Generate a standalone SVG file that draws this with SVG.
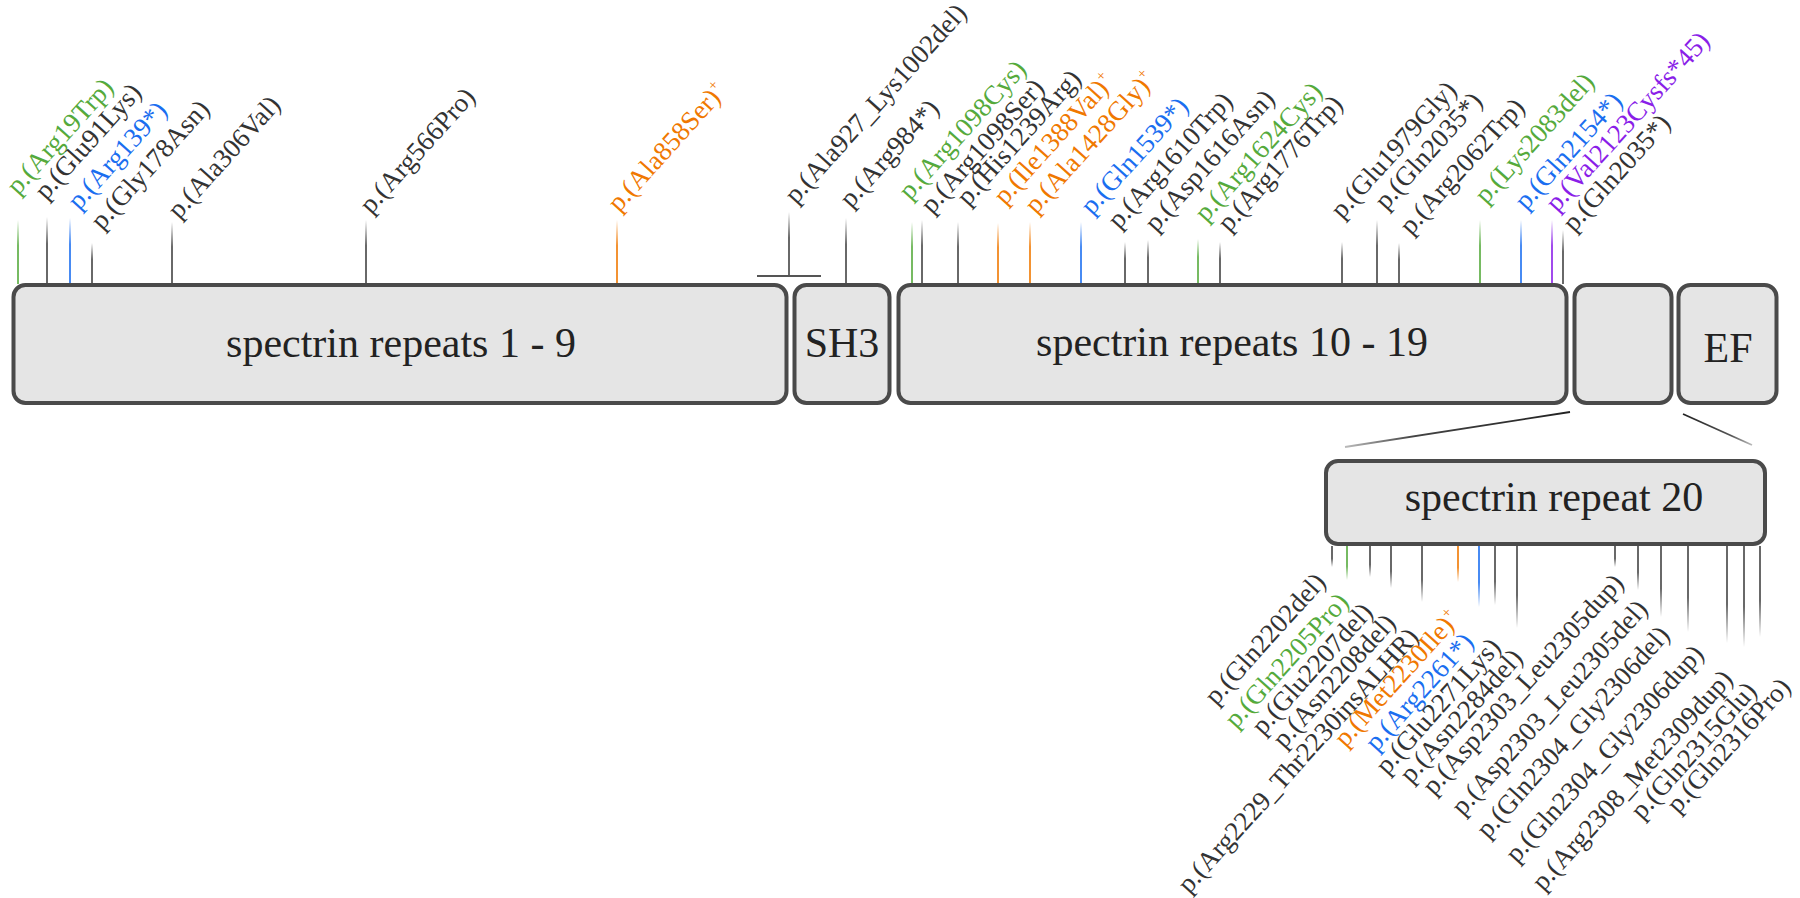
<svg xmlns="http://www.w3.org/2000/svg" width="1800" height="898" viewBox="0 0 1800 898">
<defs>
<style>
.box{fill:#e5e5e5;stroke:#4a4a4a;stroke-width:4}
.bt{font-family:"Liberation Serif",serif;font-size:42px;fill:#222;text-anchor:middle}
.lb{font-family:"Liberation Serif",serif;font-size:27px;fill:#333}
.end{text-anchor:end}
.tg{fill:#55aa3c}.tb{fill:#1a6ef0}.to{fill:#f07800}.tp{fill:#8a1ee8}
.sup{font-size:15px}
</style>
<linearGradient id="tk" x1="0" y1="0" x2="0" y2="1"><stop offset="0" stop-color="#444" stop-opacity="0"/><stop offset="0.4" stop-color="#444"/><stop offset="1" stop-color="#444"/></linearGradient>
<linearGradient id="tg" x1="0" y1="0" x2="0" y2="1"><stop offset="0" stop-color="#55aa3c" stop-opacity="0"/><stop offset="0.4" stop-color="#55aa3c"/><stop offset="1" stop-color="#55aa3c"/></linearGradient>
<linearGradient id="tb" x1="0" y1="0" x2="0" y2="1"><stop offset="0" stop-color="#1a6ef0" stop-opacity="0"/><stop offset="0.4" stop-color="#1a6ef0"/><stop offset="1" stop-color="#1a6ef0"/></linearGradient>
<linearGradient id="to" x1="0" y1="0" x2="0" y2="1"><stop offset="0" stop-color="#f07800" stop-opacity="0"/><stop offset="0.4" stop-color="#f07800"/><stop offset="1" stop-color="#f07800"/></linearGradient>
<linearGradient id="tp" x1="0" y1="0" x2="0" y2="1"><stop offset="0" stop-color="#8a1ee8" stop-opacity="0"/><stop offset="0.4" stop-color="#8a1ee8"/><stop offset="1" stop-color="#8a1ee8"/></linearGradient>
<linearGradient id="bk" x1="0" y1="0" x2="0" y2="1"><stop offset="0" stop-color="#444"/><stop offset="0.6" stop-color="#444"/><stop offset="1" stop-color="#444" stop-opacity="0"/></linearGradient>
<linearGradient id="bg" x1="0" y1="0" x2="0" y2="1"><stop offset="0" stop-color="#55aa3c"/><stop offset="0.6" stop-color="#55aa3c"/><stop offset="1" stop-color="#55aa3c" stop-opacity="0"/></linearGradient>
<linearGradient id="bb" x1="0" y1="0" x2="0" y2="1"><stop offset="0" stop-color="#1a6ef0"/><stop offset="0.6" stop-color="#1a6ef0"/><stop offset="1" stop-color="#1a6ef0" stop-opacity="0"/></linearGradient>
<linearGradient id="bo" x1="0" y1="0" x2="0" y2="1"><stop offset="0" stop-color="#f07800"/><stop offset="0.6" stop-color="#f07800"/><stop offset="1" stop-color="#f07800" stop-opacity="0"/></linearGradient>
<linearGradient id="zl" gradientUnits="userSpaceOnUse" x1="1570" y1="412" x2="1345" y2="447">
<stop offset="0" stop-color="#222"/><stop offset="0.7" stop-color="#444"/><stop offset="1" stop-color="#bbb"/>
</linearGradient>
<linearGradient id="zr" gradientUnits="userSpaceOnUse" x1="1683" y1="414" x2="1752" y2="445">
<stop offset="0" stop-color="#222"/><stop offset="0.7" stop-color="#555"/><stop offset="1" stop-color="#bbb"/>
</linearGradient>
</defs>
<rect width="1800" height="898" fill="#fff"/>

<g id="connectors">
<g id="top-ticks">
<rect x="17.2" y="220" width="1.6" height="64" fill="url(#tg)"/>
<rect x="46.2" y="217" width="1.6" height="67" fill="url(#tk)"/>
<rect x="69.2" y="218" width="1.6" height="66" fill="url(#tb)"/>
<rect x="91.2" y="243" width="1.6" height="41" fill="url(#tk)"/>
<rect x="171.2" y="222" width="1.6" height="62" fill="url(#tk)"/>
<rect x="365.2" y="220" width="1.6" height="64" fill="url(#tk)"/>
<rect x="616.2" y="220" width="1.6" height="64" fill="url(#to)"/>
<rect x="788.2" y="212" width="1.6" height="64" fill="url(#tk)"/>
<line x1="757" y1="276" x2="821" y2="276" stroke="#555" stroke-width="2"/>
<rect x="845.2" y="218" width="1.6" height="66" fill="url(#tk)"/>
<rect x="911.2" y="222" width="1.6" height="62" fill="url(#tg)"/>
<rect x="921.2" y="220" width="1.6" height="64" fill="url(#tk)"/>
<rect x="957.2" y="222" width="1.6" height="62" fill="url(#tk)"/>
<rect x="997.2" y="223" width="1.6" height="61" fill="url(#to)"/>
<rect x="1029.2" y="222" width="1.6" height="62" fill="url(#to)"/>
<rect x="1080.2" y="222" width="1.6" height="62" fill="url(#tb)"/>
<rect x="1124.2" y="242" width="1.6" height="42" fill="url(#tk)"/>
<rect x="1147.2" y="240" width="1.6" height="44" fill="url(#tk)"/>
<rect x="1197.2" y="239" width="1.6" height="45" fill="url(#tg)"/>
<rect x="1219.2" y="242" width="1.6" height="42" fill="url(#tk)"/>
<rect x="1341.2" y="242" width="1.6" height="42" fill="url(#tk)"/>
<rect x="1376.2" y="220" width="1.6" height="64" fill="url(#tk)"/>
<rect x="1398.2" y="243" width="1.6" height="41" fill="url(#tk)"/>
<rect x="1479.2" y="220" width="1.6" height="64" fill="url(#tg)"/>
<rect x="1520.2" y="220" width="1.6" height="64" fill="url(#tb)"/>
<rect x="1551.2" y="220" width="1.6" height="64" fill="url(#tp)"/>
<rect x="1562.2" y="230" width="1.6" height="54" fill="url(#tk)"/>
</g>
<g id="bottom-ticks">
<rect x="1331.2" y="546" width="1.6" height="21" fill="url(#bk)"/>
<rect x="1346.2" y="546" width="1.6" height="34" fill="url(#bg)"/>
<rect x="1369.2" y="546" width="1.6" height="31" fill="url(#bk)"/>
<rect x="1390.2" y="546" width="1.6" height="42" fill="url(#bk)"/>
<rect x="1421.2" y="546" width="1.6" height="56" fill="url(#bk)"/>
<rect x="1457.2" y="546" width="1.6" height="36" fill="url(#bo)"/>
<rect x="1478.2" y="546" width="1.6" height="61" fill="url(#bb)"/>
<rect x="1494.2" y="546" width="1.6" height="59" fill="url(#bk)"/>
<rect x="1516.2" y="546" width="1.6" height="82" fill="url(#bk)"/>
<rect x="1614.2" y="546" width="1.6" height="21" fill="url(#bk)"/>
<rect x="1637.2" y="546" width="1.6" height="44" fill="url(#bk)"/>
<rect x="1660.2" y="546" width="1.6" height="71" fill="url(#bk)"/>
<rect x="1687.2" y="546" width="1.6" height="86" fill="url(#bk)"/>
<rect x="1726.2" y="546" width="1.6" height="97" fill="url(#bk)"/>
<rect x="1743.2" y="546" width="1.6" height="101" fill="url(#bk)"/>
<rect x="1759.2" y="546" width="1.6" height="91" fill="url(#bk)"/>
</g>
<line id="zoom-left" x1="1570" y1="412" x2="1345" y2="447" stroke="url(#zl)" stroke-width="1.8"/>
<line id="zoom-right" x1="1683" y1="414" x2="1752" y2="445" stroke="url(#zr)" stroke-width="1.8"/>
</g>

<g id="box-sr1-9"><rect class="box" x="13.5" y="285" width="773" height="118" rx="12"/><text class="bt" x="401" y="357">spectrin repeats 1 - 9</text></g>
<g id="box-sh3"><rect class="box" x="794.5" y="285" width="95" height="118" rx="12"/><text class="bt" x="842" y="357">SH3</text></g>
<g id="box-sr10-19"><rect class="box" x="898.5" y="285" width="668" height="118" rx="12"/><text class="bt" x="1232" y="356">spectrin repeats 10 - 19</text></g>
<g id="box-sr20-small"><rect class="box" x="1574.5" y="285" width="97" height="118" rx="12"/></g>
<g id="box-ef"><rect class="box" x="1678.5" y="285" width="98" height="118" rx="12"/><text class="bt" x="1728" y="362">EF</text></g>
<g id="box-sr20"><rect class="box" x="1326" y="461" width="439" height="83" rx="12"/><text class="bt" x="1554" y="511">spectrin repeat 20</text></g>

<g id="top-labels" class="lb">
<text class="tg" transform="translate(18,196) rotate(-48)">p.(Arg19Trp)</text>
<text transform="translate(46,201) rotate(-48)">p.(Glu91Lys)</text>
<text class="tb" transform="translate(79,211) rotate(-48)">p.(Arg139*)</text>
<text transform="translate(102,231) rotate(-48)">p.(Gly178Asn)</text>
<text transform="translate(179,220) rotate(-48)">p.(Ala306Val)</text>
<text transform="translate(371,215) rotate(-48)">p.(Arg566Pro)</text>
<text class="to" transform="translate(619,213) rotate(-48)">p.(Ala858Ser)<tspan class="sup" dy="-11">+</tspan></text>
<text transform="translate(796,205) rotate(-48)">p.(Ala927_Lys1002del)</text>
<text transform="translate(851,209) rotate(-48)">p.(Arg984*)</text>
<text class="tg" transform="translate(910,201) rotate(-48)">p.(Arg1098Cys)</text>
<text transform="translate(932,215) rotate(-48)">p.(Arg1098Ser)</text>
<text transform="translate(968,207) rotate(-48)">p.(His1239Arg)</text>
<text class="to" transform="translate(1005,206) rotate(-48)">p.(Ile1388Val)<tspan class="sup" dy="-11">+</tspan></text>
<text class="to" transform="translate(1036,215) rotate(-48)">p.(Ala1428Gly)<tspan class="sup" dy="-11">+</tspan></text>
<text class="tb" transform="translate(1092,216) rotate(-48)">p.(Gln1539*)</text>
<text transform="translate(1119,230) rotate(-48)">p.(Arg1610Trp)</text>
<text transform="translate(1156,233) rotate(-48)">p.(Asp1616Asn)</text>
<text class="tg" transform="translate(1206,223) rotate(-48)">p.(Arg1624Cys)</text>
<text transform="translate(1229,233) rotate(-48)">p.(Arg1776Trp)</text>
<text transform="translate(1342,220) rotate(-48)">p.(Glu1979Gly)</text>
<text transform="translate(1386,211) rotate(-48)">p.(Gln2035*)</text>
<text transform="translate(1411,236) rotate(-48)">p.(Arg2062Trp)</text>
<text class="tg" transform="translate(1486,205) rotate(-48)">p.(Lys2083del)</text>
<text class="tb" transform="translate(1526,211) rotate(-48)">p.(Gln2154*)</text>
<text class="tp" transform="translate(1557,213) rotate(-48)">p.(Val2123Cysfs*45)</text>
<text transform="translate(1574,233) rotate(-48)">p.(Gln2035*)</text>
</g>

<g id="bottom-labels" class="lb end">
<text class="end" transform="translate(1327,583) rotate(-48)">p.(Gln2202del)</text>
<text class="end tg" transform="translate(1350,603) rotate(-48)">p.(Gln2205Pro)</text>
<text class="end" transform="translate(1374,613) rotate(-48)">p.(Glu2207del)</text>
<text class="end" transform="translate(1397,624) rotate(-48)">p.(Asn2208del)</text>
<text class="end" transform="translate(1420,638) rotate(-48)">p.(Arg2229_Thr2230insALHR)</text>
<text class="end to" transform="translate(1461,620) rotate(-48)">p.(Met2230Ile)<tspan class="sup" dy="-11">+</tspan></text>
<text class="end tb" transform="translate(1475,643) rotate(-48)">p.(Arg2261*)</text>
<text class="end" transform="translate(1502,648) rotate(-48)">p.(Glu2271Lys)</text>
<text class="end" transform="translate(1524,659) rotate(-48)">p.(Asn2284del)</text>
<text class="end" transform="translate(1625,584) rotate(-48)">p.(Asp2303_Leu2305dup)</text>
<text class="end" transform="translate(1649,610) rotate(-48)">p.(Asp2303_Leu2305del)</text>
<text class="end" transform="translate(1671,636) rotate(-48)">p.(Gln2304_Gly2306del)</text>
<text class="end" transform="translate(1705,655) rotate(-48)">p.(Gln2304_Gly2306dup)</text>
<text class="end" transform="translate(1734,680) rotate(-48)">p.(Arg2308_Met2309dup)</text>
<text class="end" transform="translate(1758,692) rotate(-48)">p.(Gln2315Glu)</text>
<text class="end" transform="translate(1792,688) rotate(-48)">p.(Gln2316Pro)</text>
</g>
</svg>
